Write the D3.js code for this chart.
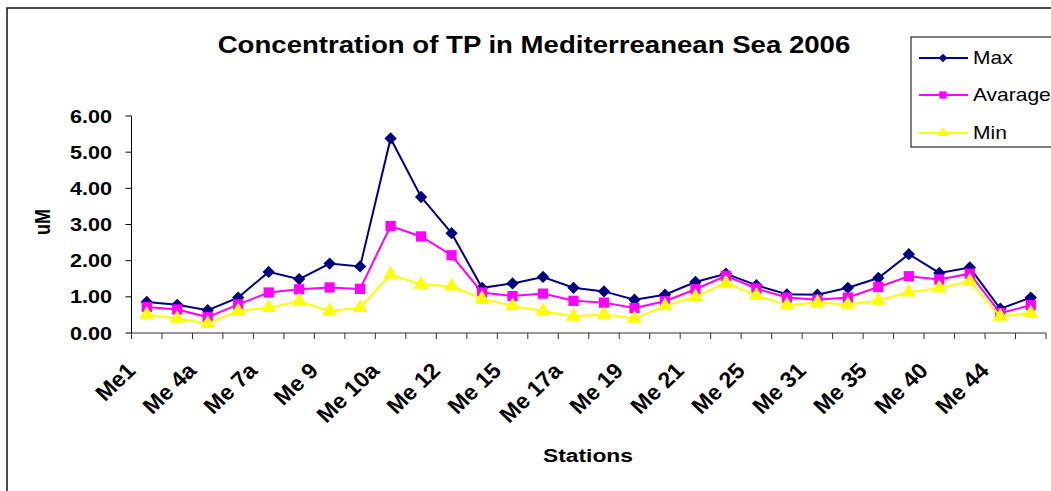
<!DOCTYPE html>
<html>
<head>
<meta charset="utf-8">
<script src="https://cdn.jsdelivr.net/npm/d3@7"></script>
<style>
  body { margin: 0; background: #fff; }
  svg { display: block; font-family: Arial, "Liberation Sans", sans-serif; }
</style>
</head>
<body>
<svg id="chart"></svg>
<script>
// ---------------------------
// TP concentration, Mediterranean stations 2006
// ---------------------------

const stations = ["Me1", "Me 3", "Me 4a", "Me 5", "Me 7a", "Me 8", "Me 9", "Me 10", "Me 10a", "Me 11",
                  "Me 12", "Me 13", "Me 15", "Me 16", "Me 17a", "Me 18", "Me 19", "Me 20", "Me 21", "Me 23",
                  "Me 25", "Me 28", "Me 31", "Me 33", "Me 35", "Me 37", "Me 40", "Me 42", "Me 44", "Me 46"];
const shownLabels = ["Me1", "Me 4a", "Me 7a", "Me 9", "Me 10a", "Me 12", "Me 15", "Me 17a",
                     "Me 19", "Me 21", "Me 25", "Me 31", "Me 35", "Me 40", "Me 44"];

const maxValues = [0.86, 0.78, 0.63, 0.98, 1.69, 1.49, 1.92, 1.84, 5.38, 3.76,
                   2.76, 1.25, 1.37, 1.55, 1.25, 1.15, 0.92, 1.06, 1.41, 1.64,
                   1.32, 1.07, 1.06, 1.25, 1.52, 2.18, 1.66, 1.81, 0.67, 0.98];
const avgValues = [0.72, 0.65, 0.44, 0.79, 1.12, 1.21, 1.26, 1.22, 2.96, 2.67,
                   2.15, 1.12, 1.02, 1.09, 0.89, 0.84, 0.69, 0.88, 1.21, 1.58,
                   1.23, 0.98, 0.92, 0.98, 1.27, 1.57, 1.48, 1.64, 0.55, 0.77];
const minValues = [0.51, 0.40, 0.26, 0.61, 0.70, 0.88, 0.61, 0.70, 1.62, 1.34,
                   1.29, 0.95, 0.75, 0.61, 0.46, 0.51, 0.40, 0.75, 1.00, 1.39,
                   1.04, 0.77, 0.84, 0.79, 0.90, 1.13, 1.24, 1.43, 0.46, 0.55];
const yTicks = [0, 1, 2, 3, 4, 5, 6];

const series = [
    { name: "Max",     values: maxValues, color: "#000080", shape: "diamond" },
    { name: "Avarage", values: avgValues, color: "#FF00FF", shape: "square" },
    { name: "Min",     values: minValues, color: "#FFFF00", shape: "triangle" }
];

const width = 1051, height = 491;
const SX = 1.2;   // the original picture is stretched sideways, text too

const svg = d3.select("#chart").attr("width", width).attr("height", height);

// outer chart frame (only top/left visible)
svg.append("rect")
    .attr("x", 7).attr("y", 8)
    .attr("width", 1200).attr("height", 700)
    .attr("fill", "#fff")
    .attr("stroke", "#111").attr("stroke-width", 1.5);

// scales
const x = d3.scaleBand().domain(stations).range([131.5, 1046]).padding(0);
const y = d3.scaleLinear().domain([0, 6]).range([333, 116]);
const cx = d => x(d) + x.bandwidth() / 2;

// small helper: text stretched horizontally like the original
function stretchedText(parent, tx, ty, str, opts) {
    const sx = opts.sx || SX;
    const g = parent.append("g")
        .attr("transform", `translate(${tx},${ty}) scale(${sx},1)` + (opts.rotate ? ` rotate(${opts.rotate})` : ""));
    g.append("text")
        .attr("text-anchor", opts.anchor || "start")
        .attr("font-size", opts.size)
        .attr("font-weight", opts.weight || "normal")
        .attr("fill", "#000")
        .text(str);
    return g;
}

// title
stretchedText(svg, 534, 53, "Concentration of TP in Mediterreanean Sea 2006",
    { anchor: "middle", size: 23, weight: "bold" });

// y axis
svg.append("line")
    .attr("x1", x.range()[0]).attr("x2", x.range()[0])
    .attr("y1", y(6)).attr("y2", y(0))
    .attr("stroke", "#000").attr("stroke-width", 1);
yTicks.forEach(t => {
    svg.append("line")
        .attr("x1", x.range()[0] - 6).attr("x2", x.range()[0])
        .attr("y1", y(t)).attr("y2", y(t))
        .attr("stroke", "#000");
    stretchedText(svg, 112, y(t) + 6.5, d3.format(".2f")(t), { anchor: "end", size: 18, weight: "bold" });
});
stretchedText(svg, 50, 222, "uM", { anchor: "middle", size: 18, weight: "bold", rotate: -90 });

// x axis
svg.append("line")
    .attr("x1", x.range()[0]).attr("x2", x.range()[1])
    .attr("y1", y(0)).attr("y2", y(0))
    .attr("stroke", "#333").attr("stroke-width", 1);
stations.concat(["__end"]).forEach((s, i) => {
    const px = i < stations.length ? x(s) : x.range()[1];
    svg.append("line")
        .attr("x1", px).attr("x2", px)
        .attr("y1", y(0)).attr("y2", y(0) + 6)
        .attr("stroke", "#333");
});
shownLabels.forEach(s => {
    stretchedText(svg, cx(s) - 10, 372, s, { anchor: "end", size: 22, weight: "bold", rotate: -45, sx: 1.05 });
});
stretchedText(svg, 588, 462, "Stations", { anchor: "middle", size: 19, weight: "bold" });

// markers
function markerPath(shape, scale) {
    if (shape === "diamond") return d3.symbol(d3.symbolSquare, 76 * scale)();
    if (shape === "square") return d3.symbol(d3.symbolSquare, 105 * scale)();
    return d3.symbol(d3.symbolTriangle, 95 * scale)();
}

// lines + points
const line = d3.line().x((d, i) => cx(stations[i])).y(d => y(d));
series.forEach(sr => {
    const g = svg.append("g");
    g.append("path")
        .attr("d", line(sr.values))
        .attr("fill", "none")
        .attr("stroke", sr.color)
        .attr("stroke-width", 2);
    g.selectAll("path.pt")
        .data(sr.values)
        .enter().append("path")
        .attr("class", "pt")
        .attr("d", markerPath(sr.shape, 1))
        .attr("transform", (d, i) => `translate(${cx(stations[i])},${y(d)})` + (sr.shape === "diamond" ? " rotate(45)" : ""))
        .attr("fill", sr.color);
});

// legend
const legend = svg.append("g");
legend.append("rect")
    .attr("x", 911).attr("y", 37)
    .attr("width", 200).attr("height", 110)
    .attr("fill", "#fff")
    .attr("stroke", "#000").attr("stroke-width", 1);
const legendY = [58, 95, 133];
series.forEach((sr, i) => {
    legend.append("line")
        .attr("x1", 919).attr("x2", 968)
        .attr("y1", legendY[i]).attr("y2", legendY[i])
        .attr("stroke", sr.color).attr("stroke-width", 2);
    legend.append("path")
        .attr("d", markerPath(sr.shape, 0.5))
        .attr("transform", `translate(943,${legendY[i]})` + (sr.shape === "diamond" ? " rotate(45)" : ""))
        .attr("fill", sr.color);
    stretchedText(legend, 973, legendY[i] + 6, sr.name, { size: 17.5 });
});
</script>
</body>
</html>
